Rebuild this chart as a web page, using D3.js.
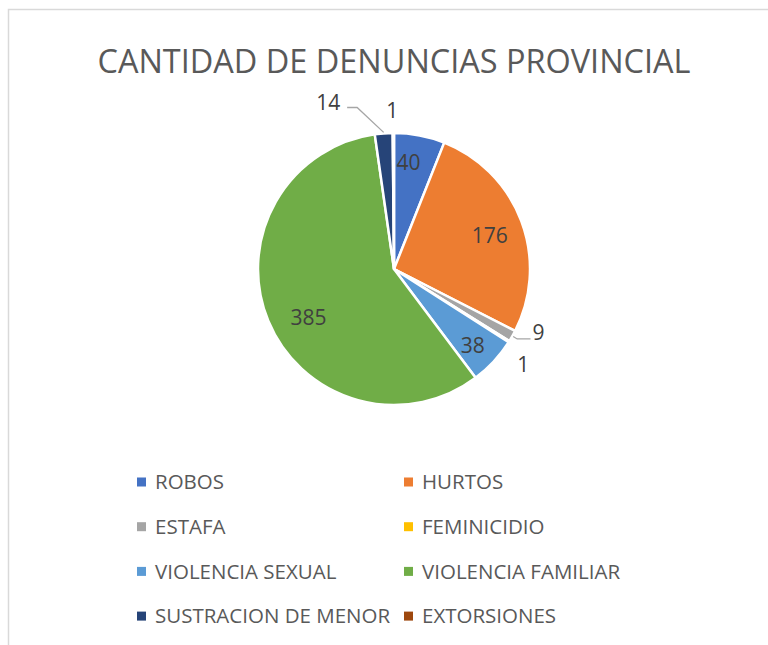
<!DOCTYPE html>
<html>
<head>
<meta charset="utf-8">
<script src="https://cdn.jsdelivr.net/npm/d3@7"></script>
<style>
  html, body { margin: 0; padding: 0; background: #fff; }
  svg { display: block; font-family: "Open Sans", sans-serif; }
</style>
</head>
<body>
<svg id="chart" width="768" height="645"></svg>
<script>
// data
const categories = ["ROBOS", "HURTOS", "ESTAFA", "FEMINICIDIO", "VIOLENCIA SEXUAL",
                    "VIOLENCIA FAMILIAR", "SUSTRACION DE MENOR", "EXTORSIONES"];
const values = [40, 176, 9, 1, 38, 385, 14, 1];
const colors = ["#4472C4", "#ED7D31", "#A5A5A5", "#FFC000", "#5B9BD5",
                "#70AD47", "#264478", "#9E480E"];
const title = "CANTIDAD DE DENUNCIAS PROVINCIAL";

const svg = d3.select("#chart");
const W = 768, H = 645;

// chart area border (runs off the right / bottom edge)
svg.append("rect")
  .attr("x", 8.5).attr("y", 9.5)
  .attr("width", W).attr("height", H)
  .attr("fill", "none")
  .attr("stroke", "#d9d9d9")
  .attr("stroke-width", 1.5);

svg.append("text")
  .attr("x", 394).attr("y", 73)
  .attr("text-anchor", "middle")
  .attr("font-size", 32)
  .attr("fill", "#595959")
  .attr("textLength", 593)
  .attr("lengthAdjust", "spacingAndGlyphs")
  .text(title);

const data = categories.map((c, i) => ({ name: c, value: values[i], color: colors[i] }));

const cx = 394, cy = 269, r = 136;
const g = svg.append("g").attr("transform", `translate(${cx},${cy})`);

const pie = d3.pie().sort(null).value(d => d.value);
const arcs = pie(data);
const arc = d3.arc().innerRadius(0).outerRadius(r);
const labelArc = d3.arc().innerRadius(r * 0.76).outerRadius(r * 0.76);

g.selectAll("path.slice").data(arcs).join("path")
  .attr("class", "slice")
  .attr("d", arc)
  .attr("fill", d => d.data.color)
  .attr("stroke", "#fff")
  .attr("stroke-width", 2.5)
  .attr("stroke-linejoin", "round");

const polar = (a, rr) => [rr * Math.sin(a), -rr * Math.cos(a)];
const mid = d => (d.startAngle + d.endAngle) / 2;

// inside labels for the bigger slices
const inside = arcs.filter(d => d.value >= 30);
const nudge = { "ROBOS": [-5, -5], "HURTOS": [-1, 3], "VIOLENCIA SEXUAL": [3, 6], "VIOLENCIA FAMILIAR": [10, 9] };
g.selectAll("text.in").data(inside).join("text")
  .attr("class", "in")
  .attr("x", d => labelArc.centroid(d)[0] + nudge[d.data.name][0])
  .attr("y", d => labelArc.centroid(d)[1] + nudge[d.data.name][1])
  .attr("dy", "0.35em")
  .attr("text-anchor", "middle")
  .attr("font-size", 21)
  .attr("fill", "#404040")
  .text(d => d.value);

// outside labels for the thin slices
const outside = {
  "ESTAFA":              { rr: 150, dx: 14, dy: -10, leader: true },
  "FEMINICIDIO":         { rr: 160, dx: -6, dy: 10, leader: false },
  "SUSTRACION DE MENOR": { rr: 170, dx: -53, dy: 3, leader: true },
  "EXTORSIONES":         { rr: 158, dx: -1, dy: 0, leader: false }
};
arcs.filter(d => outside[d.data.name]).forEach(d => {
  const o = outside[d.data.name];
  const p = polar(mid(d), o.rr);
  const lx = p[0] + o.dx, ly = p[1] + o.dy;
  g.append("text")
    .attr("x", lx).attr("y", ly)
    .attr("dy", "0.35em")
    .attr("text-anchor", "middle")
    .attr("font-size", 21)
    .attr("fill", "#404040")
    .text(d.value);
  if (o.leader) {
    const s = polar(mid(d), r + 1);
    const right = lx > 0;
    const ex = right ? lx - 8 : lx + 19;
    const ey = right ? ly + 6 : ly + 5;
    const kx = right ? s[0] + 4 : ex + 10;
    g.append("path")
      .attr("d", d3.line()([s, [kx, ey], [ex, ey]]))
      .attr("fill", "none")
      .attr("stroke", "#a6a6a6")
      .attr("stroke-width", 1.3);
  }
});

// legend, two columns
const legend = svg.append("g");
const colX = [137, 404], row0 = 482, rowH = 44.7;
const items = legend.selectAll("g").data(data).join("g")
  .attr("transform", (d, i) => `translate(${colX[i % 2]},${row0 + Math.floor(i / 2) * rowH})`);
items.append("rect")
  .attr("x", 0).attr("y", -4.5)
  .attr("width", 9).attr("height", 9)
  .attr("fill", d => d.color);
items.append("text")
  .attr("x", 18).attr("dy", "0.35em")
  .attr("font-size", 20.5)
  .attr("fill", "#595959")
  .text(d => d.name);
</script>
</body>
</html>
